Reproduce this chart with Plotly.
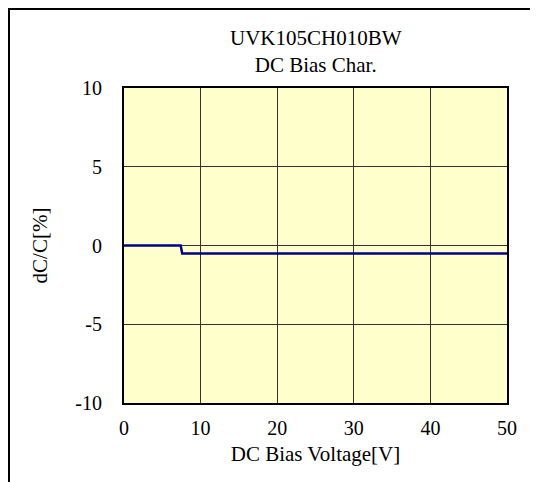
import plotly.graph_objects as go

# Data
bias_voltage = [0, 7.4, 7.6, 50]
dc_change = [0, 0, -0.5, -0.5]
x_ticks = [0, 10, 20, 30, 40, 50]
y_ticks = [-10, -5, 0, 5, 10]
y_tick_labels = ["-10", "-5", "0", "5", "10"]
title_lines = ["UVK105CH010BW", "DC Bias Char."]

FONT = "Liberation Serif, Times New Roman, serif"

fig = go.Figure()
fig.add_trace(go.Scatter(
    x=bias_voltage, y=dc_change, mode="lines",
    line=dict(color="#000080", width=2.5), showlegend=False, hoverinfo="skip"))

OFF = 8  # browser body margin
W, H = 538 - OFF, 482 - OFF
L, R, T, B = 124 - OFF, 31, 88 - OFF, 79
pw, ph = W - L - R, H - T - B

fig.update_layout(
    width=W, height=H,
    margin=dict(l=L, r=R, t=T, b=B, pad=0),
    paper_bgcolor="white", plot_bgcolor="#FFFFCC",
    font=dict(family=FONT, size=20, color="black"),
    xaxis=dict(range=[0, 50], tickvals=x_ticks, ticks="", showgrid=True,
               gridcolor="#333333", gridwidth=1, zeroline=False,
               showline=True, linecolor="black", linewidth=2, mirror=True,
               title=dict(text="DC Bias Voltage[V]", standoff=8, font=dict(size=21)),
               ticklabelstandoff=6, tickfont=dict(size=20)),
    yaxis=dict(range=[-10, 10], tickvals=y_ticks, ticktext=y_tick_labels,
               ticks="", showgrid=True,
               gridcolor="#333333", gridwidth=1, zeroline=False,
               showline=True, linecolor="black", linewidth=2, mirror=True,
               title=dict(text="dC/C[%]", standoff=22, font=dict(size=21)),
               ticklabelstandoff=16, tickfont=dict(size=20)),
    annotations=[dict(
        text="<br>".join(title_lines), xref="paper", yref="paper",
        x=0.5, y=(H - B - (52 - OFF)) / ph, xanchor="center", yanchor="middle",
        showarrow=False, font=dict(family=FONT, size=21))],
    shapes=[dict(type="rect", xref="paper", yref="paper",
                 x0=(1 - L) / pw, y0=-0.5, x1=1.3, y1=(H - B - 1) / ph,
                 line=dict(color="black", width=2), layer="below")],
)

fig.write_html("out.html")
